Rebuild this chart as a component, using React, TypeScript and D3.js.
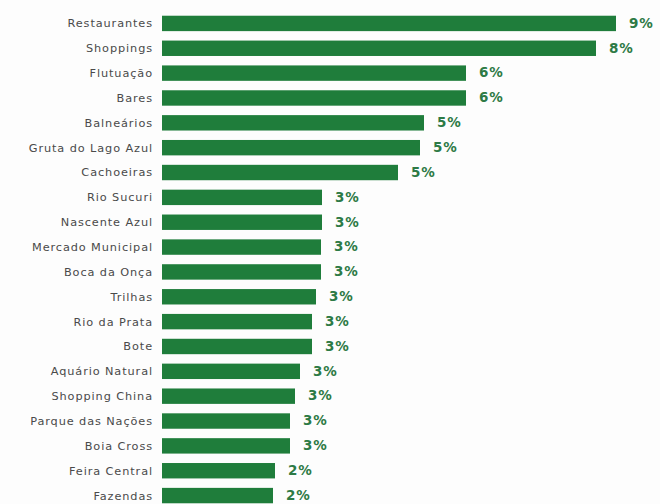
import { scaleBand, scaleLinear } from "d3";

// categories, top to bottom
const categories = [
  "Restaurantes",
  "Shoppings",
  "Flutuação",
  "Bares",
  "Balneários",
  "Gruta do Lago Azul",
  "Cachoeiras",
  "Rio Sucuri",
  "Nascente Azul",
  "Mercado Municipal",
  "Boca da Onça",
  "Trilhas",
  "Rio da Prata",
  "Bote",
  "Aquário Natural",
  "Shopping China",
  "Parque das Nações",
  "Boia Cross",
  "Feira Central",
  "Fazendas",
];

// share in %
const values = [
  9.08, 8.68, 6.08, 6.08, 5.24, 5.16, 4.72, 3.2, 3.2, 3.18, 3.18, 3.08, 3.0,
  3.0, 2.76, 2.66, 2.56, 2.56, 2.26, 2.22,
];

// printed labels
const valueLabels = [
  "9%", "8%", "6%", "6%", "5%", "5%", "5%", "3%", "3%", "3%", "3%", "3%",
  "3%", "3%", "3%", "3%", "3%", "3%", "2%", "2%",
];

const width = 660;
const height = 504;
const barColor = "#1f7d3b";
const labelColor = "#2d7a45";

export default function App() {
  const y = scaleBand<string>()
    .domain(categories)
    .range([11, 508])
    .paddingInner(0.38)
    .paddingOuter(0.19);

  const x = scaleLinear().domain([0, 10]).range([162, 662]);

  return (
    <div style={{ position: "absolute", left: 0, top: 0 }}>
      <svg
        width={width}
        height={height}
        style={{ display: "block", background: "#fdfdfd" }}
      >
        {categories.map((c, i) => {
          const top = y(c) ?? 0;
          const mid = top + y.bandwidth() / 2;
          return (
            <g key={c}>
              <text
                x={153}
                y={mid}
                dy="0.35em"
                textAnchor="end"
                fontFamily="'DejaVu Sans', sans-serif"
                fontSize={11.3}
                letterSpacing={0.9}
                fill="#4a4a4a"
              >
                {c}
              </text>
              <rect
                x={x(0)}
                y={top}
                width={x(values[i]) - x(0)}
                height={y.bandwidth()}
                fill={barColor}
              />
              <text
                x={x(values[i]) + 13}
                y={mid}
                dy="0.32em"
                fontFamily="'DejaVu Sans', sans-serif"
                fontSize={13.5}
                fontWeight="bold"
                letterSpacing={0.8}
                fill={labelColor}
              >
                {valueLabels[i]}
              </text>
            </g>
          );
        })}
      </svg>
    </div>
  );
}
